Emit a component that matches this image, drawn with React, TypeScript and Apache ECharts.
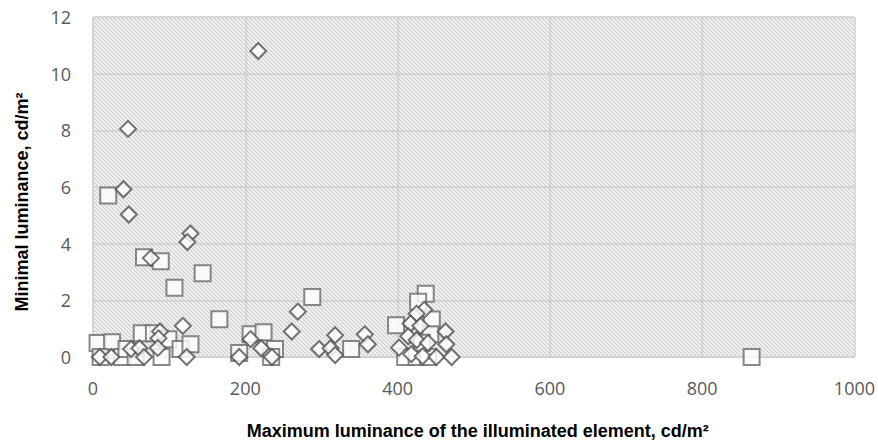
import React, { useEffect, useRef } from "react";
import * as echarts from "echarts";

const xTicks = [0, 200, 400, 600, 800, 1000];
const yTicks = [0, 2, 4, 6, 8, 10, 12];

const squareSeries: [number, number][] = [
  [20, 5.7], [67, 3.52], [89, 3.38], [144, 2.96], [107, 2.44], [166, 1.33],
  [288, 2.12], [437, 2.23], [427, 1.95], [445, 1.32], [398, 1.12], [443, 0.8],
  [865, 0], [339, 0.28], [6, 0.49], [25, 0.52], [10, 0], [38, 0], [44, 0.28],
  [56, 0], [64, 0.84], [80, 0.84], [99, 0.63], [90, 0], [115, 0.28], [128, 0.45],
  [207, 0.8], [224, 0.87], [192, 0.14], [239, 0.28], [234, 0], [410, 0],
  [425, 0], [440, 0], [432, 0.5],
];

const diamondSeries: [number, number][] = [
  [217, 10.8], [46, 8.05], [40, 5.92], [47, 5.03], [128, 4.36], [124, 4.06],
  [76, 3.49], [118, 1.1], [269, 1.6], [261, 0.9], [9, 0], [24, 0], [50, 0.28],
  [61, 0.31], [88, 0.9], [86, 0.66], [85, 0.32], [67, 0], [123, 0], [207, 0.63],
  [192, 0], [221, 0.31], [235, 0], [318, 0.77], [297, 0.28], [312, 0.31],
  [318, 0.07], [357, 0.8], [361, 0.45], [402, 0.33], [435, 1.67], [425, 1.53],
  [417, 1.18], [430, 1.1], [414, 0.73], [425, 0.6], [440, 0.5], [463, 0.9],
  [464, 0.45], [418, 0.1], [433, 0.03], [451, 0], [471, 0],
];

function makeHatch(): string {
  const c = document.createElement("canvas");
  c.width = 8;
  c.height = 8;
  const ctx = c.getContext("2d")!;
  ctx.fillStyle = "#f8f8f8";
  ctx.fillRect(0, 0, 8, 8);
  ctx.strokeStyle = "#d0d0d0";
  ctx.lineWidth = 1.3;
  for (let k = -3; k <= 3; k++) {
    ctx.beginPath();
    ctx.moveTo(k * 4 - 4, -4);
    ctx.lineTo(k * 4 + 12, 12);
    ctx.stroke();
  }
  return c.toDataURL();
}

export default function App() {
  const ref = useRef<HTMLDivElement>(null);
  useEffect(() => {
    if (!ref.current) return;
    const chart = echarts.init(ref.current, null, { renderer: "svg" });
    const hatch = makeHatch();
    const tickFont = { fontFamily: "'Open Sans'", fontSize: 18, color: "#595959" };
    const titleFont = {
      fontFamily: "'Liberation Sans Narrow', 'Liberation Sans'",
      fontWeight: "bold" as const,
      fontSize: 18,
      color: "#000",
    };
    chart.setOption({
      animation: false,
      backgroundColor: "#fff",
      grid: {
        left: 93,
        right: 20,
        top: 17,
        bottom: 84,
        show: true,
        borderWidth: 0,
        backgroundColor: { image: hatch, repeat: "repeat" },
      },
      xAxis: {
        type: "value",
        min: xTicks[0],
        max: xTicks[xTicks.length - 1],
        interval: 200,
        name: "Maximum luminance of the illuminated element, cd/m²",
        nameLocation: "middle",
        nameGap: 65,
        nameTextStyle: { ...titleFont, padding: [0, 0, 0, 8] },
        axisLine: { show: true, lineStyle: { color: "#cfcfcf", width: 1 } },
        axisTick: { show: false },
        axisLabel: { ...tickFont, margin: 22, formatter: (v: number) => String(v) },
        splitLine: { show: true, lineStyle: { color: "#cfcfcf", width: 1.5 } },
      },
      yAxis: {
        type: "value",
        min: yTicks[0],
        max: yTicks[yTicks.length - 1],
        interval: 2,
        name: "Minimal luminance, cd/m²",
        nameLocation: "middle",
        nameGap: 62,
        nameTextStyle: { ...titleFont, padding: [0, 30, 0, 0] },
        axisLine: { show: true, lineStyle: { color: "#cfcfcf", width: 1 } },
        axisTick: { show: false },
        axisLabel: { ...tickFont, margin: 22, formatter: (v: number) => String(v) },
        splitLine: { show: true, lineStyle: { color: "#cfcfcf", width: 1.5 } },
      },
      series: [
        {
          type: "scatter",
          data: squareSeries,
          symbol: "rect",
          symbolSize: 16,
          itemStyle: { color: "#ffffff", borderColor: "#6a6a6a", borderWidth: 2 },
        },
        {
          type: "scatter",
          data: diamondSeries,
          symbol: "diamond",
          symbolSize: 16,
          itemStyle: { color: "#ffffff", borderColor: "#505050", borderWidth: 2 },
        },
      ],
    });
    return () => chart.dispose();
  }, []);
  return (
    <div
      ref={ref}
      style={{ position: "absolute", left: 0, top: 0, width: 878, height: 445 }}
    />
  );
}
